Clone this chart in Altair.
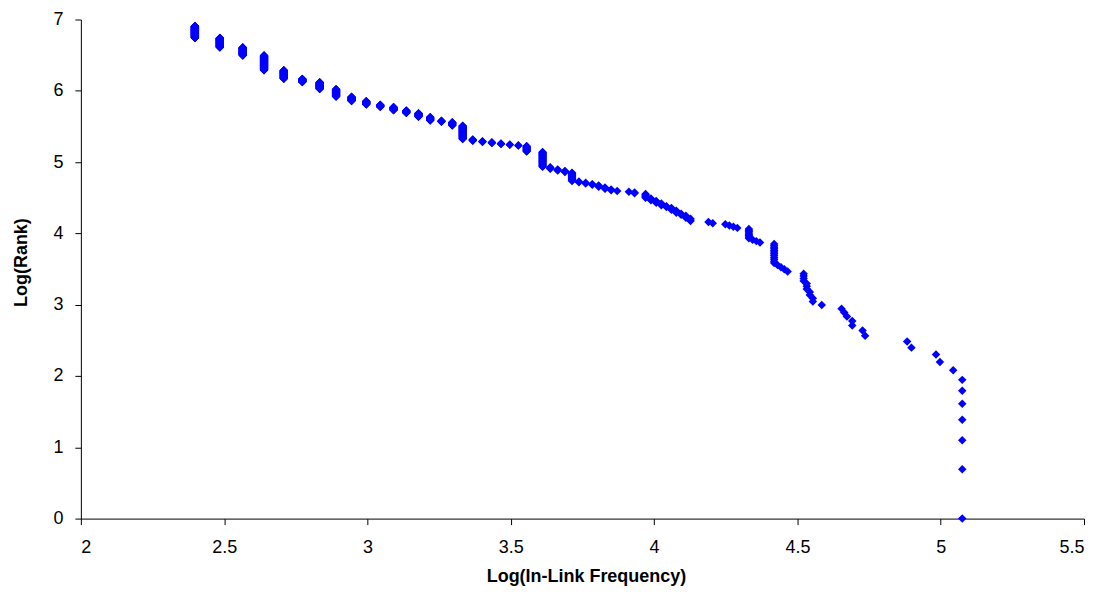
import altair as alt
import numpy as np
import pandas as pd

# In-link frequency values (descending) and how many pages share each value
freq = [160, 155, 148, 146, 134, 132, 114, 113, 109, 107,
        106, 105, 98, 95, 94, 93, 92, 87, 86, 85,
        84, 83, 79, 78, 77, 76, 73, 72, 71, 70,
        67, 66, 62, 61, 60, 59, 58, 57, 56, 55,
        54, 53, 51, 50, 48, 47, 46, 45, 44, 43,
        42, 41, 40, 39, 38, 37, 35, 34, 33, 32,
        31, 30, 29, 28, 27, 26, 25, 24, 23, 22,
        21, 20, 19, 18, 17, 16, 15, 14, 13, 12,
        11]
count = [7, 1, 1, 1, 1, 1, 1, 1, 2, 1,
         1, 1, 1, 2, 2, 3, 4, 1, 1, 1,
         1, 12, 1, 1, 1, 8, 1, 1, 1, 1,
         1, 1, 3, 3, 2, 3, 3, 2, 3, 3,
         3, 6, 2, 1, 1, 2, 3, 3, 2, 2,
         2, 15, 3, 3, 4, 33, 15, 2, 2, 3,
         3, 3, 5, 43, 13, 5, 14, 16, 11, 15,
         11, 17, 22, 42, 42, 22, 61, 124, 79, 105,
         154]

x_ticks = [2, 2.5, 3, 3.5, 4, 4.5, 5, 5.5]
y_ticks = [0, 1, 2, 3, 4, 5, 6, 7]

rows = []
rank = 0
for f, c in zip(freq, count):
    for _ in range(c):
        rank += 1
        rows.append({"logfreq": float(np.log(f)), "logrank": float(np.log(rank))})
df = pd.DataFrame(rows)

FONT = "Liberation Sans"

chart = alt.Chart(df).mark_point(
    shape="diamond", filled=True, size=72, color="#0000ff", opacity=1, strokeWidth=0, clip=False
).encode(
    x=alt.X("logfreq:Q",
            scale=alt.Scale(domain=[2, 5.5], nice=False, zero=False),
            axis=alt.Axis(values=x_ticks, format="~g", title="Log(In-Link Frequency)",
                          labelPadding=14, titleX=506, titleY=58, titleBaseline="middle",
                          titleAlign="center")),
    y=alt.Y("logrank:Q",
            scale=alt.Scale(domain=[0, 7], nice=False, zero=False),
            axis=alt.Axis(values=y_ticks, format="d", title="Log(Rank)",
                          labelPadding=12, titleX=-59, titleY=243, titleBaseline="middle",
                          titleAlign="center", titleAngle=270)),
).properties(
    width=1005, height=500,
    autosize=alt.AutoSizeParams(type="none"),
    padding={"left": 73, "top": 11, "right": 15, "bottom": 74},
).configure_view(
    stroke=None
).configure_axis(
    grid=False,
    domainColor="#000000", domainWidth=1,
    tickColor="#000000", tickSize=6, tickWidth=1,
    labelFont=FONT, labelFontSize=18, labelColor="#000000",
    titleFont=FONT, titleFontSize=18, titleFontWeight="bold", titleColor="#000000",
)

chart.save("out.html", embed_options={"renderer": "svg", "actions": False})
